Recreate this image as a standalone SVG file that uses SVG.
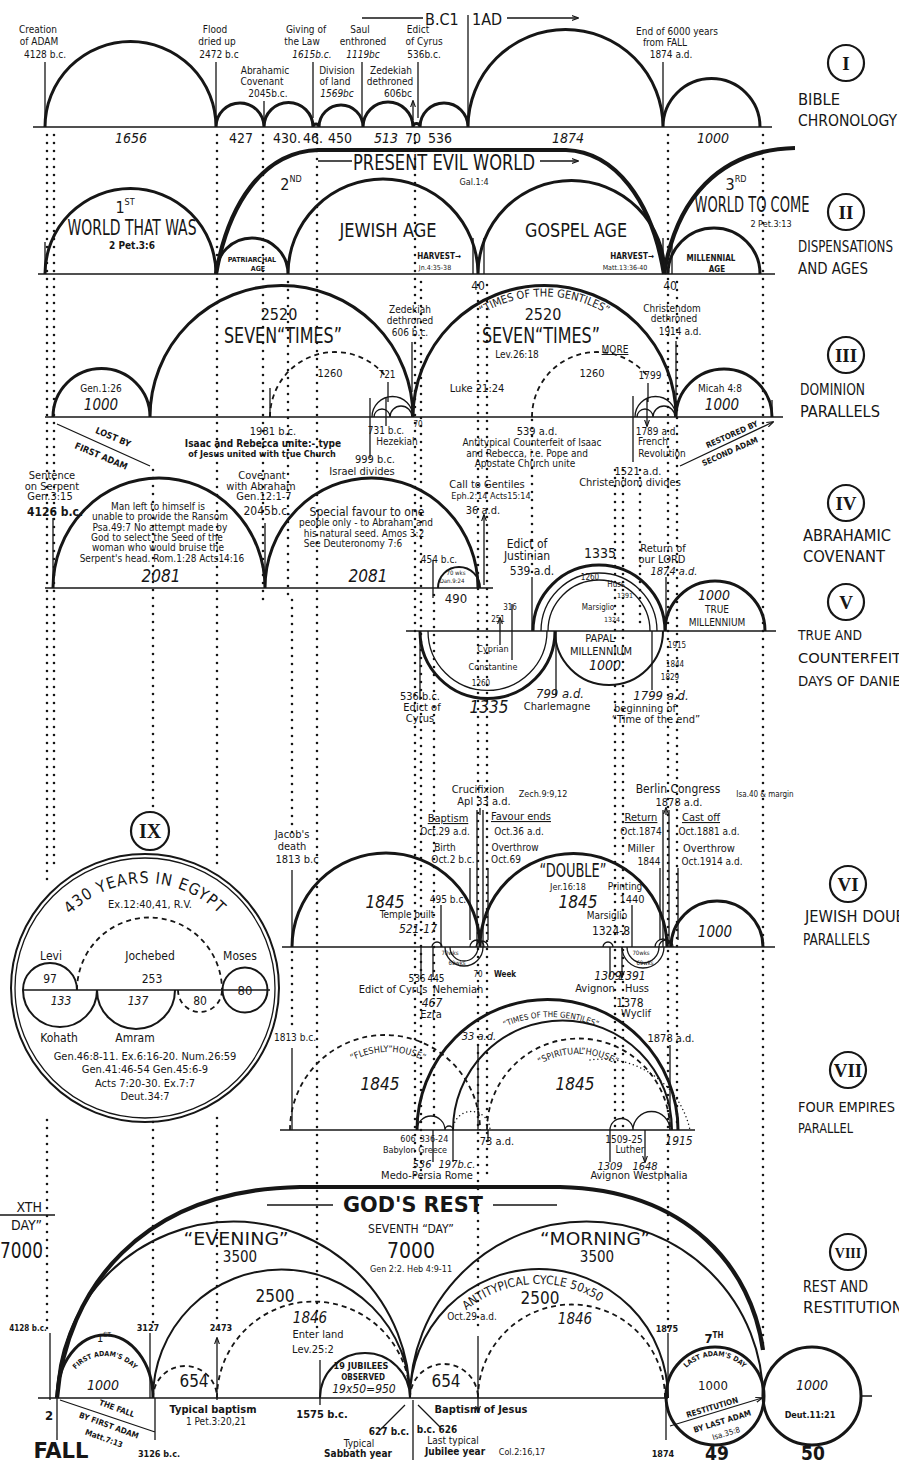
<svg xmlns="http://www.w3.org/2000/svg" width="899" height="1470" viewBox="0 0 899 1470">
<defs>
<style>
text{font-family:'Liberation Sans Narrow','DejaVu Sans Condensed','Liberation Sans',sans-serif;fill:#161616;text-anchor:middle}
.l{text-anchor:start}.e{text-anchor:end}
.i{font-style:italic}.b{font-weight:bold}.u{text-decoration:underline}
.rn{font-family:'Liberation Serif',serif;font-weight:bold;font-size:19px}
.f6{font-size:6px}.f7{font-size:7px}.f8{font-size:8px}.f9{font-size:9px}.f10{font-size:10px}.f11{font-size:11px}.f12{font-size:12px}.f13{font-size:13px}.f14{font-size:14px}.f15{font-size:15px}.f16{font-size:16px}.f17{font-size:17px}.f19{font-size:19px}.f21{font-size:21px}.f22{font-size:22px}
.k{fill:none;stroke:#161616;stroke-width:3}
.kk{fill:none;stroke:#161616;stroke-width:4.2}
.m{fill:none;stroke:#161616;stroke-width:2}
.t{fill:none;stroke:#161616;stroke-width:1.3}
.d{fill:none;stroke:#161616;stroke-width:1.8;stroke-dasharray:5 4}
.o{fill:none;stroke:#161616;stroke-width:1.5;stroke-dasharray:0 4;stroke-linecap:round}
.v{fill:none;stroke:#161616;stroke-width:2.6;stroke-dasharray:0 8;stroke-linecap:round}
.base{fill:none;stroke:#161616;stroke-width:1.7}
.ar{fill:none;stroke:#161616;stroke-width:1.3;marker-end:url(#ah)}
.ab{fill:none;stroke:#161616;stroke-width:1.3;marker-end:url(#ah);marker-start:url(#ah)}
.rc{fill:none;stroke:#161616;stroke-width:2.2}
</style>
<marker id="ah" viewBox="0 0 10 10" refX="9" refY="5" markerWidth="7" markerHeight="7" markerUnits="userSpaceOnUse" orient="auto-start-reverse"><path d="M0 1.5L10 5L0 8.5" fill="none" stroke="#161616" stroke-width="1.6"/></marker>
<path id="pGent3" d="M424 417 A120.5 120.5 0 0 1 665 417"/>
<path id="pGent7" d="M438 1130 A113 113 0 0 1 664 1130"/>
<path id="pFlesh" d="M310 1130 A78 78 0 0 1 466 1130"/>
<path id="pSpir" d="M502 1130 A76 76 0 0 1 654 1130"/>
<path id="pAnti" d="M425 1398 A114 114 0 0 1 653 1398"/>
<path id="pFirst" d="M65 1398 A40 42 0 0 1 145 1398"/>
<path id="pLast" d="M675 1396 A40 40 0 0 1 755 1396"/>
<path id="pEgypt" d="M40 988 A105 105 0 0 1 250 988"/>
</defs>
<rect width="899" height="1470" fill="#ffffff"/>

<g id="connectors">
<path class="v" d="M47 135V880M47 1120V1330M54 135V870M153 470V812M153 1122V1330M217 135V868M217 1118V1322M263 135V600M288 282V600M317 135V1330M292 600V835M292 952V1028M415 135V1180M421 282V1180M434 595V1125M478 285V1330M487 285V1180M532 420V578M615 470V1128M623 470V1128M640 470V625M668 135V1332M677 282V1130M763 135V1348"/>
</g>

<g id="sec1">
<path class="base" d="M33 127H772"/>
<path class="k" d="M45 127A85.5 85.5 0 0 1 216 127M216 127A24 24 0 0 1 264 127M264 127A24.5 24.5 0 0 1 313 127M313 127A3 3 0 0 1 319 127M319 127A22 22 0 0 1 363 127M363 127A25 25 0 0 1 413 127M413 127A3.5 3.5 0 0 1 420 127M420 127A24 24 0 0 1 468 127M468 127A97.5 97.5 0 0 1 663 127M663 127A48.5 48.5 0 0 1 760 127"/>
<path class="t" d="M468 15V127"/>
<path class="ar" d="M45 118V62M216 118V62M313 118V62M362 118V62M418 118V62M663 118V62M264 120V101M413 120V101"/>
<path class="ar" d="M423 18H362M507 18H578"/>
<text class="f16 l" x="425" y="25">B.C1</text>
<text class="f16 l" x="472" y="25">1AD</text>
<text class="f10" x="38" y="33">Creation</text><text class="f10" x="39" y="45">of ADAM</text><text class="f10" x="45" y="58">4128 b.c.</text>
<text class="f10" x="215" y="33">Flood</text><text class="f10" x="217" y="45">dried up</text><text class="f10" x="219" y="58">2472 b.c</text>
<text class="f10" x="306" y="33">Giving of</text><text class="f10" x="302" y="45">the Law</text><text class="f10 i" x="312" y="58">1615b.c.</text>
<text class="f10" x="360" y="33">Saul</text><text class="f10" x="363" y="45">enthroned</text><text class="f10 i" x="363" y="58">1119bc</text>
<text class="f10" x="418" y="33">Edict</text><text class="f10" x="424" y="45">of Cyrus</text><text class="f10" x="424" y="58">536b.c.</text>
<text class="f10" x="265" y="74">Abrahamic</text><text class="f10" x="262" y="85">Covenant</text><text class="f10" x="268" y="97">2045b.c.</text>
<text class="f10" x="337" y="74">Division</text><text class="f10" x="335" y="85">of land</text><text class="f10 i" x="337" y="97">1569bc</text>
<text class="f10" x="391" y="74">Zedekiah</text><text class="f10" x="390" y="85">dethroned</text><text class="f10" x="398" y="97">606bc</text>
<text class="f10" x="677" y="35">End of 6000 years</text><text class="f10" x="665" y="46">from FALL</text><text class="f10" x="671" y="58">1874 a.d.</text>
<text class="f14 i" x="131" y="143">1656</text>
<text class="f14" x="241" y="143">427</text>
<text class="f14" x="287" y="143">430.</text>
<text class="f14" x="313" y="143">46.</text>
<text class="f14" x="340" y="143">450</text>
<text class="f14 i" x="386" y="143">513</text>
<text class="f14" x="413" y="143">70</text>
<text class="f14" x="440" y="143">536</text>
<text class="f14 i" x="568" y="143">1874</text>
<text class="f14 i" x="713" y="143">1000</text>
</g>

<g id="sec2">
<path class="base" d="M38 274H775"/>
<path class="kk" d="M216 274C228 205 262 152 318 150L566 150C615 152 652 200 664 274"/>
<path class="kk" d="M664 274C676 200 718 150 795 148"/>
<path class="k" d="M45 274A85.5 85.5 0 0 1 216 274M216 274A36 36 0 0 1 288 274M288 274A95 95 0 0 1 478 274M478 274A93.5 93.5 0 0 1 665 274M668 274A46 46 0 0 1 760 274"/>
<path class="t" d="M45 274V242M473 274V238M484 274V238M663 274V238M672 274V238"/>
<path class="ar" d="M352 161H318M540 161H578"/>
<text class="f16" x="125" y="213">1<tspan class="f9" dy="-8">ST</tspan></text>
<text class="f22" x="132" y="235" textLength="129" lengthAdjust="spacingAndGlyphs">WORLD THAT WAS</text>
<text class="f10 b" x="132" y="249">2 Pet.3:6</text>
<text class="f16" x="291" y="190">2<tspan class="f9" dy="-8">ND</tspan></text>
<text class="f21" x="444" y="170" textLength="182" lengthAdjust="spacingAndGlyphs">PRESENT EVIL WORLD</text>
<text class="f9" x="474" y="185">Gal.1:4</text>
<text class="f19" x="388" y="237" textLength="97" lengthAdjust="spacingAndGlyphs">JEWISH AGE</text>
<text class="f19" x="576" y="237" textLength="102" lengthAdjust="spacingAndGlyphs">GOSPEL AGE</text>
<text class="f8 b" x="439" y="259">HARVEST→</text><text class="f7" x="435" y="270">Jn.4:35-38</text>
<text class="f8 b" x="632" y="259">HARVEST→</text><text class="f7" x="625" y="270">Matt.13:36-40</text>
<text class="f7 b" x="252" y="262">PATRIARCHAL</text><text class="f7 b" x="258" y="271">AGE</text>
<text class="f8 b" x="711" y="261">MILLENNIAL</text><text class="f8 b" x="717" y="272">AGE</text>
<text class="f12" x="478" y="290">40</text><text class="f12" x="670" y="290">40</text>
<text class="f16" x="736" y="190">3<tspan class="f9" dy="-8">RD</tspan></text>
<text class="f21" x="752" y="212" textLength="115" lengthAdjust="spacingAndGlyphs">WORLD TO COME</text>
<text class="f9" x="771" y="227">2 Pet.3:13</text>
</g>

<g id="sec3">
<path class="base" d="M45 417H783"/>
<path class="k" d="M53 417A48.5 48.5 0 0 1 150 417M150 417A131.5 131.5 0 0 1 413 417M413 417A131.5 131.5 0 0 1 676 417M676 417A48 48 0 0 1 772 417"/>
<path class="d" d="M270 417A65 65 0 0 1 387 378M532 417A65 65 0 0 1 649 378"/>
<path class="t" d="M372 417A20.5 20.5 0 0 1 413 417M374 417A8 8 0 0 1 390 417M390 417A11 11 0 0 1 412 417M635 417A20.5 20.5 0 0 1 676 417M637 417A8 8 0 0 1 653 417M653 417A11 11 0 0 1 675 417M772 400V417"/>
<path class="ar" d="M412 392V342M270 388V417M388 402V382M370 398V458M386 398V426M676 417V341M633 396V462M648 402V383M647 398V426"/>
<path class="ar" d="M57 424L150 466M680 466L773 422"/>
<text class="f10" x="101" y="392">Gen.1:26</text>
<text class="f15 i" x="101" y="410">1000</text>
<text class="f16" x="279" y="320">2520</text>
<text class="f21" x="283" y="343" textLength="118" lengthAdjust="spacingAndGlyphs">SEVEN“TIMES”</text>
<text class="f10" x="410" y="313">Zedekiah</text><text class="f10" x="410" y="324">dethroned</text><text class="f10" x="410" y="336">606 b.c.</text>
<text class="f11" x="330" y="377">1260</text>
<text class="f10" x="387" y="378">721</text>
<text class="f8" x="418" y="427">70</text>
<text class="f11" x="273" y="435">1981 b.c.</text>
<text class="f10 b" x="263" y="447">Isaac and Rebecca unite:- type</text>
<text class="f9 b" x="262" y="457">of Jesus united with true Church</text>
<text class="f10" x="386" y="434">731 b.c.</text><text class="f10" x="397" y="445">Hezekiah</text>
<text class="f11" x="375" y="463">999 b.c.</text><text class="f11" x="362" y="475">Israel divides</text>
<text class="f9 b" x="112" y="440" transform="rotate(23 112 440)">LOST BY</text>
<text class="f9 b" x="100" y="459" transform="rotate(23 100 459)">FIRST ADAM</text>
<text class="f11"><textPath href="#pGent3" startOffset="50%">“TIMES OF THE GENTILES”</textPath></text>
<text class="f16" x="543" y="320">2520</text>
<text class="f21" x="541" y="343" textLength="118" lengthAdjust="spacingAndGlyphs">SEVEN“TIMES”</text>
<text class="f10" x="517" y="358">Lev.26:18</text>
<text class="f10 u" x="615" y="353">MORE</text>
<text class="f11" x="592" y="377">1260</text>
<text class="f10" x="650" y="379">1799</text>
<text class="f11" x="477" y="392">Luke 21:24</text>
<text class="f10" x="720" y="392">Micah 4:8</text>
<text class="f15 i" x="722" y="410">1000</text>
<text class="f10" x="672" y="312">Christendom</text><text class="f10" x="674" y="322">dethroned</text><text class="f10" x="680" y="335">1914 a.d.</text>
<text class="f11" x="537" y="435">539 a.d.</text>
<text class="f10" x="532" y="446">Antitypical Counterfeit of Isaac</text>
<text class="f10" x="527" y="457">and Rebecca, i.e. Pope and</text>
<text class="f10" x="525" y="467">Apostate Church unite</text>
<text class="f10" x="657" y="435">1789 a.d.</text><text class="f10" x="653" y="445">French</text><text class="f10" x="662" y="457">Revolution</text>
<text class="f11" x="638" y="475">1521 a.d.</text>
<text class="f11" x="630" y="486">Christendom divides</text>
<text class="f8 b" x="733" y="437" transform="rotate(-24 733 437)">RESTORED BY</text>
<text class="f8 b" x="731" y="454" transform="rotate(-24 731 454)">SECOND ADAM</text>
</g>

<g id="sec4">
<path class="base" d="M45 588H493"/>
<path class="k" d="M53 588A106 110 0 0 1 265 588M265 588A106.5 110 0 0 1 478 588"/>
<path class="m" d="M438 588A21 21 0 0 1 480 588"/>
<path class="ar" d="M53 588V518M265 588V523M433 598V560M484 585V515"/>
<text class="f11" x="52" y="479">Sentence</text><text class="f11" x="52" y="490">on Serpent</text><text class="f11" x="50" y="500">Gen.3:15</text><text class="f12 b" x="55" y="516">4126 b.c.</text>
<text class="f10" x="158" y="510">Man left to himself is</text>
<text class="f10" x="160" y="520">unable to provide the Ransom</text>
<text class="f10" x="160" y="531">Psa.49:7 No attempt made by</text>
<text class="f10" x="157" y="541">God to select the Seed of the</text>
<text class="f10" x="158" y="551">woman who would bruise the</text>
<text class="f10" x="162" y="562">Serpent's head. Rom.1:28 Acts14:16</text>
<text class="f17 i" x="161" y="582">2081</text>
<text class="f11" x="262" y="479">Covenant</text><text class="f11" x="261" y="490">with Abraham</text><text class="f11" x="264" y="500">Gen.12:1-7</text><text class="f12" x="267" y="515">2045b.c.</text>
<text class="f12" x="367" y="516">Special favour to one</text>
<text class="f10" x="366" y="526">people only - to Abraham and</text>
<text class="f10" x="364" y="537">his natural seed.   Amos 3:2</text>
<text class="f10" x="353" y="547">See Deuteronomy 7:6</text>
<text class="f17 i" x="368" y="582">2081</text>
<text class="f11" x="487" y="488">Call to Gentiles</text>
<text class="f9" x="491" y="499">Eph.2:14 Acts15:14</text>
<text class="f11" x="483" y="514">36 a.d.</text>
<text class="f10" x="439" y="563">454 b.c.</text>
<text class="f6" x="456" y="575">70 wks</text><text class="f6" x="452" y="583">Dan.9:24</text>
<text class="f13" x="456" y="603">490</text>
</g>

<g id="sec5">
<path class="base" d="M406 631H776"/>
<path class="k" d="M420 631A67.5 67.5 0 0 0 555 631M533 631A66 66 0 0 1 665 631M665 631A50 50 0 0 1 765 631"/>
<path class="m" d="M555 631A54 54 0 0 0 663 631"/>
<path class="t" d="M428 631A59.5 59.5 0 0 0 547 631M541 631A58 58 0 0 1 657 631M548 631A51 51 0 0 1 650 631"/>
<path class="ar" d="M532 631V577M666 631V577M420 631V700M556 631V696M652 631V690M512 660V604M500 645V618"/>
<text class="f12" x="527" y="548">Edict of</text><text class="f12" x="527" y="560">Justinian</text><text class="f12" x="532" y="575">539 a.d.</text>
<text class="f14" x="600" y="558">1335</text>
<text class="f11" x="663" y="552">Return of</text><text class="f11" x="662" y="563">our LORD</text><text class="f11 i" x="674" y="575">1874 a.d.</text>
<text class="f8" x="590" y="580">1260</text>
<text class="f8" x="616" y="587">Huss</text>
<text class="f7" x="625" y="598">1391</text>
<text class="f8" x="598" y="610">Marsiglio</text>
<text class="f7" x="612" y="622">1324</text>
<text class="f8" x="510" y="610">316</text>
<text class="f8" x="498" y="622">251</text>
<text class="f9" x="493" y="652">Cyprian</text>
<text class="f9" x="493" y="670">Constantine</text>
<text class="f8" x="481" y="686">1260</text>
<text class="f17 i" x="489" y="713">1335</text>
<text class="f11" x="420" y="700">536 b.c.</text><text class="f11" x="422" y="711">Edict of</text><text class="f11" x="420" y="722">Cyrus</text>
<text class="f13 i" x="560" y="698">799 a.d.</text>
<text class="f11" x="557" y="710">Charlemagne</text>
<text class="f11" x="600" y="642">PAPAL</text>
<text class="f11" x="601" y="655">MILLENNIUM</text>
<text class="f14 i" x="605" y="670">1000</text>
<text class="f14 i" x="714" y="600">1000</text>
<text class="f10" x="717" y="613">TRUE</text>
<text class="f10" x="717" y="626">MILLENNIUM</text>
<text class="f13 i" x="661" y="700">1799 a.d.</text>
<text class="f11" x="645" y="712">beginning of</text>
<text class="f11" x="656" y="723">“Time of the end”</text>
<text class="f8" x="677" y="648">1915</text>
<text class="f8" x="675" y="667">1844</text>
<text class="f8" x="670" y="680">1829</text>
</g>

<g id="sec9">
<circle class="m" cx="145" cy="988" r="134"/>
<circle class="t" cx="145" cy="988" r="130"/>
<path class="base" d="M23 990H270"/>
<path class="m" d="M23 990A27 27 0 0 1 77 990M23 990A37 37 0 0 0 97 990M97 990A39 39 0 0 0 175 990"/>
<circle class="m" cx="245" cy="990" r="22.5"/>
<path class="d" d="M77 990A72.5 72.5 0 0 1 222 990M178 990A22 22 0 0 0 222 990"/>
<text class="f16" letter-spacing="1"><textPath href="#pEgypt" startOffset="50%">430 YEARS IN EGYPT</textPath></text>
<text class="f11" x="150" y="908">Ex.12:40,41, R.V.</text>
<text class="f12" x="51" y="960">Levi</text><text class="f12" x="150" y="960">Jochebed</text><text class="f12" x="240" y="960">Moses</text>
<text class="f12" x="50" y="983">97</text><text class="f12" x="152" y="983">253</text><text class="f13" x="245" y="995">80</text>
<text class="f12 i" x="61" y="1005">133</text><text class="f12 i" x="138" y="1005">137</text><text class="f12" x="200" y="1005">80</text>
<text class="f12" x="59" y="1042">Kohath</text><text class="f12" x="135" y="1042">Amram</text>
<text class="f11" x="145" y="1060">Gen.46:8-11. Ex.6:16-20. Num.26:59</text>
<text class="f11" x="145" y="1073">Gen.41:46-54   Gen.45:6-9</text>
<text class="f11" x="145" y="1087">Acts 7:20-30. Ex.7:7</text>
<text class="f11" x="145" y="1100">Deut.34:7</text>
</g>

<g id="sec6">
<path class="base" d="M282 947H775"/>
<path class="k" d="M292 947A94 94 0 0 1 480 947M480 947A93.5 93.5 0 0 1 667 947M671 947A46 46 0 0 1 763 947"/>
<path class="t" d="M432 947A5 5 0 0 1 442 947M445 947A19 19 0 0 0 483 947M450 947A14 14 0 0 0 478 947M470 947A7 7 0 0 1 484 947M476 947A6 6 0 0 1 488 947M603 947A5 5 0 0 1 613 947M622 947A21 21 0 0 0 664 947M627 947A16 16 0 0 0 659 947M655 947A8 8 0 0 1 671 947M659 947A7 7 0 0 1 673 947"/>
<path class="t" d="M477 810V947M483 810V947M663 810V947M669 810V947"/>
<path class="ar" d="M292 947V870M470 940V868M488 940V868M441 947V905M660 940V868M678 940V868M632 947V905M480 815V808M666 815V808"/>
<path class="ar" d="M421 947V977M433 947V977M610 947V977M622 947V977"/>
<text class="f11" x="292" y="838">Jacob's</text><text class="f11" x="292" y="850">death</text><text class="f11" x="297" y="863">1813 b.c</text>
<text class="f17 i" x="385" y="908">1845</text>
<text class="f10" x="407" y="918">Temple built</text>
<text class="f12 i" x="418" y="933">521-17</text>
<text class="f10" x="448" y="903">495 b.c.</text>
<text class="f11" x="478" y="793">Crucifixion</text><text class="f11" x="484" y="805">Apl 33 a.d.</text>
<text class="f9" x="543" y="797">Zech.9:9,12</text>
<text class="f11 u" x="448" y="822">Baptism</text><text class="f10" x="445" y="835">Oct.29 a.d.</text><text class="f10" x="445" y="851">Birth</text><text class="f10" x="453" y="863">Oct.2 b.c.</text>
<text class="f11 u" x="521" y="820">Favour ends</text><text class="f10" x="519" y="835">Oct.36 a.d.</text><text class="f10" x="515" y="851">Overthrow</text><text class="f10" x="506" y="863">Oct.69</text>
<text class="f19" x="573" y="877" textLength="67" lengthAdjust="spacingAndGlyphs">“DOUBLE”</text>
<text class="f9" x="568" y="890">Jer.16:18</text>
<text class="f17 i" x="578" y="908">1845</text>
<text class="f10" x="625" y="890">Printing</text><text class="f11" x="632" y="903">1440</text>
<text class="f10" x="607" y="919">Marsiglio</text><text class="f12" x="611" y="935">1324-8</text>
<text class="f12" x="678" y="793">Berlin Congress</text><text class="f11" x="679" y="806">1878 a.d.</text>
<text class="f8" x="765" y="797">Isa.40 &amp; margin</text>
<text class="f11 u" x="641" y="821">Return</text><text class="f10" x="641" y="835">Oct.1874</text><text class="f11" x="641" y="852">Miller</text><text class="f10" x="649" y="865">1844</text>
<text class="f11 u" x="701" y="821">Cast off</text><text class="f10" x="709" y="835">Oct.1881 a.d.</text><text class="f11" x="709" y="852">Overthrow</text><text class="f10" x="712" y="865">Oct.1914 a.d.</text>
<text class="f15 i" x="715" y="937">1000</text>
<text class="f10" x="417" y="982">536</text><text class="f10" x="436" y="982">445</text>
<text class="f11" x="393" y="993">Edict of Cyrus</text><text class="f11" x="458" y="993">Nehemiah</text>
<text class="f12 i" x="432" y="1007">467</text><text class="f11" x="431" y="1018">Ezra</text>
<text class="f8" x="478" y="977">70</text><text class="f8 b" x="505" y="977">Week</text>
<text class="f6" x="450" y="955">70wks</text><text class="f6" x="457" y="965">69wks</text>
<text class="f6" x="641" y="955">70wks</text><text class="f6" x="645" y="965">69wks</text>
<text class="f12 i" x="608" y="980">1309</text><text class="f12 i" x="632" y="980">1391</text>
<text class="f11" x="595" y="992">Avignon</text><text class="f11" x="637" y="992">Huss</text>
<text class="f12" x="630" y="1007">1378</text><text class="f11" x="636" y="1017">Wyclif</text>
</g>

<g id="sec7">
<path class="base" d="M280 1130H695"/>
<path class="d" d="M290 1130A95 95 0 0 1 480 1130M487 1130A91.5 91.5 0 0 1 670 1130"/>
<path class="k" d="M417 1130A130.5 130.5 0 0 1 678 1130"/>
<path class="m" d="M453 1130A109.5 109.5 0 0 1 672 1130"/>
<path class="t" d="M417 1130A14 14 0 0 1 445 1130M445 1130A4 4 0 0 1 453 1130M610 1130A11.5 11.5 0 0 1 633 1130M633 1130A18.5 18.5 0 0 1 670 1130"/>
<path class="o" d="M453 1130A18.5 18.5 0 0 1 490 1130M590 1060A90 90 0 0 1 690 1130"/>
<path class="ar" d="M292 1130V1048M478 1130V1045M670 1130V1045M488 1130V1142M433 1130V1162M453 1130V1162M610 1130V1162M645 1130V1162"/>
<text class="f10" x="295" y="1041">1813 b.c.</text>
<text class="f9"><textPath href="#pFlesh" startOffset="50%">“FLESHLY”HOUSE”</textPath></text>
<text class="f9"><textPath href="#pSpir" startOffset="50%">“SPIRITUAL”HOUSE”</textPath></text>
<text class="f8"><textPath href="#pGent7" startOffset="50%">“TIMES OF THE GENTILES”</textPath></text>
<text class="f17 i" x="380" y="1090">1845</text>
<text class="f17 i" x="575" y="1090">1845</text>
<text class="f11 i" x="479" y="1040">33 a.d.</text>
<text class="f11" x="671" y="1042">1878 a.d.</text>
<text class="f9" x="408" y="1142">606</text><text class="f9" x="434" y="1142">336-24</text>
<text class="f9" x="415" y="1153">Babylon Greece</text>
<text class="f11 i" x="422" y="1168">536</text><text class="f11 i" x="457" y="1168">197b.c.</text>
<text class="f11" x="427" y="1179">Medo-Persia Rome</text>
<text class="f11" x="497" y="1145">73 a.d.</text>
<text class="f10" x="624" y="1143">1509-25</text><text class="f10" x="630" y="1153">Luther</text>
<text class="f11 i" x="610" y="1170">1309</text><text class="f11 i" x="645" y="1170">1648</text>
<text class="f11" x="639" y="1179">Avignon Westphalia</text>
<text class="f12 i" x="679" y="1145">1915</text>
</g>

<g id="sec8">
<path class="base" d="M38 1398H668"/>
<path class="kk" d="M57 1398C66 1290 140 1190 300 1187L560 1187C690 1190 752 1270 763 1350"/>
<path class="m" d="M57 1398A176.5 176.5 0 0 1 410 1398M410 1398A176.5 176.5 0 0 1 763 1398M153 1398A128.5 128.5 0 0 1 410 1398M410 1398A129 129 0 0 1 668 1398M320 1398A45 45 0 0 1 410 1398"/>
<path class="k" d="M57 1398A48 63 0 0 1 153 1398"/>
<path class="d" d="M217 1398A96.5 96.5 0 0 1 410 1398M478 1398A93.5 93.5 0 0 1 665 1398M153 1398A32 32 0 0 1 217 1398M410 1398A34 34 0 0 1 478 1398"/>
<circle class="k" cx="715" cy="1396" r="49"/>
<circle class="k" cx="812" cy="1396" r="49"/>
<path class="t" d="M860 1396H872M413 1400V1460"/>
<path class="ar" d="M50 1400V1333M57 1398V1440M150 1398V1333M155 1398V1440M668 1398V1333M666 1398V1440M380 1430L405 1405M440 1427L418 1405M0 1215H55M333 1205H267M493 1205H557M60 1400L155 1432M670 1426L762 1398"/>
<path class="ab" d="M217 1338V1400M320 1360V1405M478 1336V1412"/>
<text class="f14 e" x="42" y="1212">XTH</text>
<text class="f14 e" x="42" y="1230">DAY”</text>
<text class="f22 l" x="0" y="1258" textLength="43" lengthAdjust="spacingAndGlyphs">7000</text>
<text class="f21 b" x="413" y="1212" textLength="140" lengthAdjust="spacingAndGlyphs">GOD'S REST</text>
<text class="f12" x="411" y="1233">SEVENTH “DAY”</text>
<text class="f21" x="411" y="1258">7000</text>
<text class="f9" x="411" y="1272">Gen 2:2. Heb 4:9-11</text>
<text class="f17" x="236" y="1245" textLength="105" lengthAdjust="spacingAndGlyphs">“EVENING”</text>
<text class="f15" x="240" y="1262">3500</text>
<text class="f17" x="595" y="1245" textLength="110" lengthAdjust="spacingAndGlyphs">“MORNING”</text>
<text class="f15" x="597" y="1262">3500</text>
<text class="f17" x="275" y="1302">2500</text>
<text class="f15 i" x="310" y="1323">1846</text>
<text class="f11" x="318" y="1338">Enter land</text>
<text class="f11" x="313" y="1353">Lev.25:2</text>
<text class="f12"><textPath href="#pAnti" startOffset="48%">ANTITYPICAL CYCLE 50x50</textPath></text>
<text class="f17" x="540" y="1304">2500</text>
<text class="f15 i" x="575" y="1324">1846</text>
<text class="f10" x="472" y="1320">Oct.29 a.d.</text>
<text class="f8 b" x="28" y="1331">4128 b.c.</text>
<text class="f9 b" x="148" y="1331">3127</text>
<text class="f9 b" x="221" y="1331">2473</text>
<text class="f9 b" x="667" y="1332">1875</text>
<text class="f11" x="104" y="1342">1<tspan class="f7" dy="-5">ST</tspan></text>
<text class="f7 b"><textPath href="#pFirst" startOffset="50%">FIRST ADAM'S DAY</textPath></text>
<text class="f14 i" x="103" y="1390">1000</text>
<text class="f17" x="194" y="1387">654</text>
<text class="f9 b" x="361" y="1369">19 JUBILEES</text>
<text class="f8 b" x="363" y="1380">OBSERVED</text>
<text class="f12 i" x="364" y="1393">19x50=950</text>
<text class="f17" x="446" y="1387">654</text>
<text class="f13 b" x="714" y="1343">7<tspan class="f8" dy="-5">TH</tspan></text>
<text class="f7 b"><textPath href="#pLast" startOffset="50%">LAST ADAM'S DAY</textPath></text>
<text class="f13" x="713" y="1390">1000</text>
<text class="f8 b" x="713" y="1410" transform="rotate(-17 713 1410)">RESTITUTION</text>
<text class="f8 b" x="723" y="1424" transform="rotate(-17 723 1424)">BY LAST ADAM</text>
<text class="f8" x="727" y="1436" transform="rotate(-17 727 1436)">Isa.35:8</text>
<text class="f14 i" x="812" y="1390">1000</text>
<text class="f9 b" x="810" y="1418">Deut.11:21</text>
<text class="f13 b" x="49" y="1420">2</text>
<text class="f22 b" x="61" y="1458" textLength="55" lengthAdjust="spacingAndGlyphs">FALL</text>
<text class="f8 b" x="116" y="1411" transform="rotate(20 116 1411)">THE FALL</text>
<text class="f8 b" x="108" y="1428" transform="rotate(20 108 1428)">BY FIRST ADAM</text>
<text class="f8 b" x="103" y="1441" transform="rotate(20 103 1441)">Matt.7:13</text>
<text class="f11 b" x="213" y="1413">Typical baptism</text>
<text class="f10" x="216" y="1425">1 Pet.3:20,21</text>
<text class="f11 b" x="322" y="1418">1575 b.c.</text>
<text class="f9 b" x="159" y="1457">3126 b.c.</text>
<text class="f10 b" x="389" y="1435">627 b.c.</text>
<text class="f10" x="359" y="1447">Typical</text>
<text class="f10 b" x="358" y="1457">Sabbath year</text>
<text class="f10 b" x="437" y="1433">b.c. 626</text>
<text class="f10" x="453" y="1444">Last typical</text>
<text class="f10 b" x="455" y="1455">Jubilee year</text>
<text class="f9" x="522" y="1455">Col.2:16,17</text>
<text class="f11 b" x="481" y="1413">Baptism of Jesus</text>
<text class="f9 b" x="663" y="1457">1874</text>
<text class="f19 b" x="717" y="1460">49</text>
<text class="f19 b" x="813" y="1460">50</text>
</g>

<g id="legend">
<circle class="rc" cx="846" cy="63" r="18"/><text class="rn" x="846" y="70">I</text>
<text class="f16 l" x="798" y="105" textLength="42" lengthAdjust="spacingAndGlyphs">BIBLE</text><text class="f16 l" x="798" y="126" textLength="99" lengthAdjust="spacingAndGlyphs">CHRONOLOGY</text>
<circle class="rc" cx="846" cy="212" r="18"/><text class="rn" x="846" y="219">II</text>
<text class="f16 l" x="798" y="252" textLength="95" lengthAdjust="spacingAndGlyphs">DISPENSATIONS</text><text class="f16 l" x="798" y="274" textLength="70" lengthAdjust="spacingAndGlyphs">AND AGES</text>
<circle class="rc" cx="846" cy="355" r="18"/><text class="rn" x="846" y="362">III</text>
<text class="f16 l" x="800" y="395" textLength="65" lengthAdjust="spacingAndGlyphs">DOMINION</text><text class="f16 l" x="800" y="417" textLength="80" lengthAdjust="spacingAndGlyphs">PARALLELS</text>
<circle class="rc" cx="846" cy="503" r="18"/><text class="rn" x="846" y="510">IV</text>
<text class="f16 l" x="803" y="541" textLength="88" lengthAdjust="spacingAndGlyphs">ABRAHAMIC</text><text class="f16 l" x="803" y="562" textLength="82" lengthAdjust="spacingAndGlyphs">COVENANT</text>
<circle class="rc" cx="846" cy="602" r="18"/><text class="rn" x="846" y="609">V</text>
<text class="f14 l" x="798" y="640" textLength="64" lengthAdjust="spacingAndGlyphs">TRUE AND</text><text class="f14 l" x="798" y="663" textLength="103" lengthAdjust="spacingAndGlyphs">COUNTERFEIT</text><text class="f14 l" x="798" y="686" textLength="110" lengthAdjust="spacingAndGlyphs">DAYS OF DANIEL</text>
<circle class="rc" cx="848" cy="884" r="18"/><text class="rn" x="848" y="891">VI</text>
<text class="f16 l" x="805" y="922" textLength="118" lengthAdjust="spacingAndGlyphs">JEWISH DOUBLE</text><text class="f16 l" x="803" y="945" textLength="67" lengthAdjust="spacingAndGlyphs">PARALLELS</text>
<circle class="rc" cx="848" cy="1070" r="18"/><text class="rn" x="848" y="1077">VII</text>
<text class="f14 l" x="798" y="1112" textLength="97" lengthAdjust="spacingAndGlyphs">FOUR EMPIRES</text><text class="f14 l" x="798" y="1133" textLength="55" lengthAdjust="spacingAndGlyphs">PARALLEL</text>
<circle class="rc" cx="848" cy="1252" r="18"/><text class="rn" x="848" y="1258" style="font-size:14px">VIII</text>
<text class="f16 l" x="803" y="1292" textLength="65" lengthAdjust="spacingAndGlyphs">REST AND</text><text class="f16 l" x="803" y="1313" textLength="100" lengthAdjust="spacingAndGlyphs">RESTITUTION</text>
<circle class="rc" cx="150" cy="831" r="19"/><text class="rn" x="150" y="838" style="font-size:20px">IX</text>
</g>
</svg>
